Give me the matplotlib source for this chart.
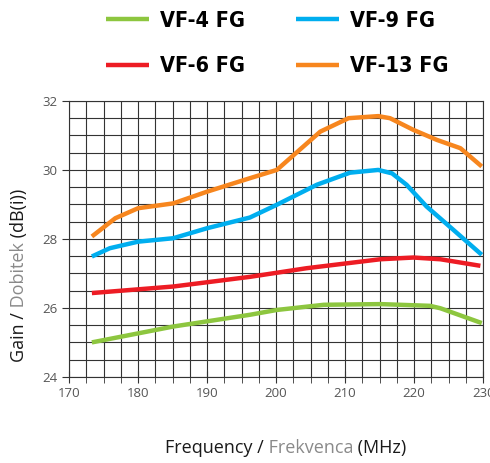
import matplotlib.pyplot as plt
from matplotlib.ticker import MultipleLocator

# Frequency (MHz) and gain (dBi)
freq_vf4 = [173.3, 185.1, 196.2, 200.1, 206.9, 215.1, 222.3, 223.8, 229.8]
gain_vf4 = [25.00, 25.46, 25.80, 25.94, 26.09, 26.11, 26.06, 25.99, 25.56]

freq_vf6 = [173.3, 185.1, 196.2, 204.4, 215.1, 219.9, 223.8, 229.6]
gain_vf6 = [26.43, 26.62, 26.90, 27.15, 27.41, 27.46, 27.41, 27.22]

freq_vf9 = [173.3, 175.9, 180.0, 185.1, 190.0, 196.2, 200.1, 205.9, 210.7,
            214.8, 216.8, 218.9, 221.8, 225.7, 229.8]
gain_vf9 = [27.49, 27.73, 27.92, 28.02, 28.31, 28.62, 28.99, 29.57, 29.92,
            30.00, 29.90, 29.57, 28.94, 28.26, 27.54]

freq_vf13 = [173.3, 176.7, 180.0, 185.1, 190.0, 196.2, 200.1, 206.4, 210.5,
             214.8, 216.5, 219.9, 223.3, 226.7, 229.8]
gain_vf13 = [28.07, 28.60, 28.89, 29.03, 29.37, 29.76, 30.00, 31.11, 31.50,
             31.56, 31.50, 31.16, 30.87, 30.63, 30.10]

series = [
    ('VF-4 FG', freq_vf4, gain_vf4, '#8DC63F'),
    ('VF-6 FG', freq_vf6, gain_vf6, '#ED1C24'),
    ('VF-9 FG', freq_vf9, gain_vf9, '#00AEEF'),
    ('VF-13 FG', freq_vf13, gain_vf13, '#F7861E'),
]

plt.rcParams['font.family'] = ['Open Sans', 'DejaVu Sans']

fig = plt.figure(figsize=(4.9, 4.63), dpi=100)
ax = fig.add_axes([0.141, 0.186, 0.845, 0.596])

for name, x, y, c in series:
    ax.plot(x, y, color=c, lw=3.2, label=name, solid_capstyle='butt', zorder=3)

ax.set_xlim(170, 230)
ax.set_ylim(24, 32)
ax.xaxis.set_major_locator(MultipleLocator(10))
ax.xaxis.set_minor_locator(MultipleLocator(2.5))
ax.yaxis.set_major_locator(MultipleLocator(2))
ax.yaxis.set_minor_locator(MultipleLocator(0.5))
ax.grid(True, which='both', color='#333333', lw=0.8)
ax.set_axisbelow(True)
for s in ax.spines.values():
    s.set_color('#333333')
    s.set_linewidth(0.8)

ax.tick_params(axis='x', which='major', direction='inout', length=8,
               color='#333333', labelsize=9.5, labelcolor='#555555', pad=3)
ax.tick_params(axis='x', which='minor', direction='out', length=4, color='#333333')
ax.tick_params(axis='y', which='major', direction='out', length=5,
               color='#333333', labelsize=9.5, labelcolor='#555555')
ax.tick_params(axis='y', which='minor', length=0)

# x label in three colours
t1 = fig.text(0.337, 0.012, 'Frequency /', fontsize=13, color='#1a1a1a',
              ha='left', va='bottom')
t2 = ax.annotate(' Frekvenca', xy=(1, 0), xycoords=t1, fontsize=13,
                 color='#8a8a8a', ha='left', va='bottom')
ax.annotate(' (MHz)', xy=(1, 0), xycoords=t2, fontsize=13,
            color='#1a1a1a', ha='left', va='bottom')

# y label in three colours
u1 = fig.text(0.020, 0.218, 'Gain /', fontsize=13, color='#1a1a1a',
              rotation=90, ha='left', va='bottom')
u2 = ax.annotate(' Dobitek', xy=(0, 1), xycoords=u1, fontsize=13,
                 color='#8a8a8a', rotation=90, ha='left', va='bottom')
ax.annotate(' (dB(i))', xy=(0, 1), xycoords=u2, fontsize=13,
            color='#1a1a1a', rotation=90, ha='left', va='bottom')

fig.legend(loc='center', bbox_to_anchor=(0.566, 0.906), ncol=2, frameon=False,
           prop={'family': 'DejaVu Sans', 'weight': 'bold',
                 'stretch': 'condensed', 'size': 15.5},
           handlelength=2.0, handletextpad=0.5, columnspacing=2.4,
           labelspacing=1.2)

fig.savefig('out.png', dpi=100)
